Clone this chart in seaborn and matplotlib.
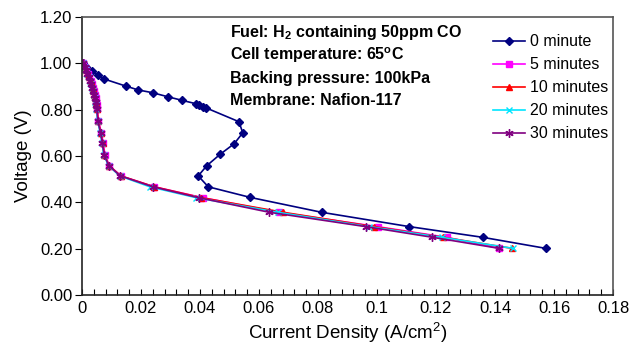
import matplotlib
matplotlib.use("Agg")
import matplotlib.pyplot as plt
import seaborn as sns
import pandas as pd
from matplotlib.ticker import MultipleLocator, FuncFormatter

# ---- data ----
labels = ["0 minute", "5 minutes", "10 minutes", "20 minutes", "30 minutes"]

x0 = [0.0003, 0.0015, 0.0035, 0.0055, 0.0076, 0.0148, 0.0191, 0.0240, 0.0290, 0.0340,
      0.0385, 0.0395, 0.0411, 0.0420, 0.0532, 0.0545, 0.0516, 0.0468, 0.0423, 0.0394,
      0.0428, 0.0571, 0.0812, 0.1110, 0.1358, 0.1573]
y0 = [1.000, 0.985, 0.965, 0.950, 0.932, 0.902, 0.885, 0.873, 0.856, 0.840,
      0.826, 0.822, 0.810, 0.808, 0.748, 0.700, 0.653, 0.607, 0.558, 0.514,
      0.467, 0.421, 0.357, 0.295, 0.249, 0.201]

y_common = [1.000, 0.985, 0.970, 0.955, 0.940, 0.925, 0.910, 0.895, 0.880, 0.865,
            0.850, 0.835, 0.820, 0.805, 0.750, 0.700, 0.655, 0.605, 0.558, 0.514,
            0.467, 0.420, 0.357, 0.295, 0.249, 0.201]

x5 = [0.0005, 0.0010, 0.0015, 0.0020, 0.0025, 0.0030, 0.0034, 0.0037, 0.0040, 0.0043,
      0.0046, 0.0048, 0.0050, 0.0052, 0.0056, 0.0066, 0.0072, 0.0078, 0.0093, 0.0132,
      0.0245, 0.0409, 0.0669, 0.1002, 0.1236, 0.1415]
x10 = [0.0005, 0.0010, 0.0014, 0.0019, 0.0024, 0.0029, 0.0033, 0.0036, 0.0039, 0.0042,
       0.0045, 0.0047, 0.0049, 0.0051, 0.0055, 0.0064, 0.0070, 0.0076, 0.0092, 0.0132,
       0.0245, 0.0405, 0.0682, 0.0991, 0.1225, 0.1459]
x20 = [0.0004, 0.0009, 0.0013, 0.0018, 0.0023, 0.0027, 0.0031, 0.0034, 0.0037, 0.0040,
       0.0043, 0.0045, 0.0047, 0.0049, 0.0053, 0.0062, 0.0068, 0.0074, 0.0090, 0.0128,
       0.0230, 0.0387, 0.0663, 0.0973, 0.1219, 0.1462]
x30 = [0.0004, 0.0009, 0.0013, 0.0018, 0.0023, 0.0027, 0.0031, 0.0035, 0.0038, 0.0041,
       0.0044, 0.0046, 0.0048, 0.0050, 0.0054, 0.0063, 0.0069, 0.0075, 0.0091, 0.0130,
       0.0240, 0.0395, 0.0635, 0.0962, 0.1188, 0.1415]

info_lines = ["Fuel: H$_2$ containing 50ppm CO",
              "Cell temperature: 65$^{o}$C",
              "Backing pressure: 100kPa",
              "Membrane: Nafion-117"]

xs = [x0, x5, x10, x20, x30]
ys = [y0, y_common, y_common, y_common, y_common]

colors = ["#000080", "#FF00FF", "#FF0000", "#00E5FF", "#800080"]
markers = ["D", "s", "^", "x", (6, 2, 0)]
msizes = [4.2, 5, 5, 5, 6]

plt.rcParams["font.family"] = ["Liberation Sans", "DejaVu Sans"]
plt.rcParams["mathtext.default"] = "regular"

fig = plt.figure(figsize=(6.34, 3.52), dpi=100)
ax = fig.add_axes([0.1293, 0.162, 0.8376, 0.7897])

for lab, xv, yv, c, m, ms in zip(labels, xs, ys, colors, markers, msizes):
    df = pd.DataFrame({"x": xv, "y": yv})
    sns.lineplot(data=df, x="x", y="y", sort=False, estimator=None, ax=ax,
                 color=c, marker=m, markersize=ms, linewidth=1.2,
                 markeredgecolor=c, markeredgewidth=1.0, label=lab)

ax.set_xlim(0, 0.18)
ax.set_ylim(0, 1.2)
ax.xaxis.set_major_locator(MultipleLocator(0.02))
ax.xaxis.set_minor_locator(MultipleLocator(0.004))
ax.yaxis.set_major_locator(MultipleLocator(0.2))

def xfmt(v, pos):
    s = f"{v:.2f}".rstrip("0").rstrip(".")
    return "0" if abs(v) < 1e-9 else s
ax.xaxis.set_major_formatter(FuncFormatter(xfmt))
ax.yaxis.set_major_formatter(FuncFormatter(lambda v, p: f"{v:.2f}"))

ax.tick_params(axis="x", which="both", direction="in", length=4, width=0.8,
               labelsize=12, pad=4, top=False)
ax.tick_params(axis="y", which="major", direction="out", length=5, width=0.8,
               labelsize=12, pad=2, right=False)

for s in ["left", "bottom"]:
    ax.spines[s].set_color("#222222")
    ax.spines[s].set_linewidth(1.2)
for s in ["top", "right"]:
    ax.spines[s].set_color("#555555")
    ax.spines[s].set_linewidth(1.2)

ax.set_xlabel("Current Density (A/cm$^2$)", fontsize=13.5, labelpad=4)
ax.set_ylabel("Voltage (V)", fontsize=13.5, labelpad=6)

for line, yf in zip(info_lines, [0.928, 0.845, 0.763, 0.683]):
    ax.text(0.279, yf, line, transform=ax.transAxes, fontsize=11.5,
            fontweight="bold", va="baseline", ha="left")

ax.legend(loc="upper left", bbox_to_anchor=(0.75, 0.984), frameon=False,
          fontsize=11.5, handlelength=2.0, handletextpad=0.3, labelspacing=0.5,
          borderpad=0.3)

fig.savefig("out.png", dpi=100)
